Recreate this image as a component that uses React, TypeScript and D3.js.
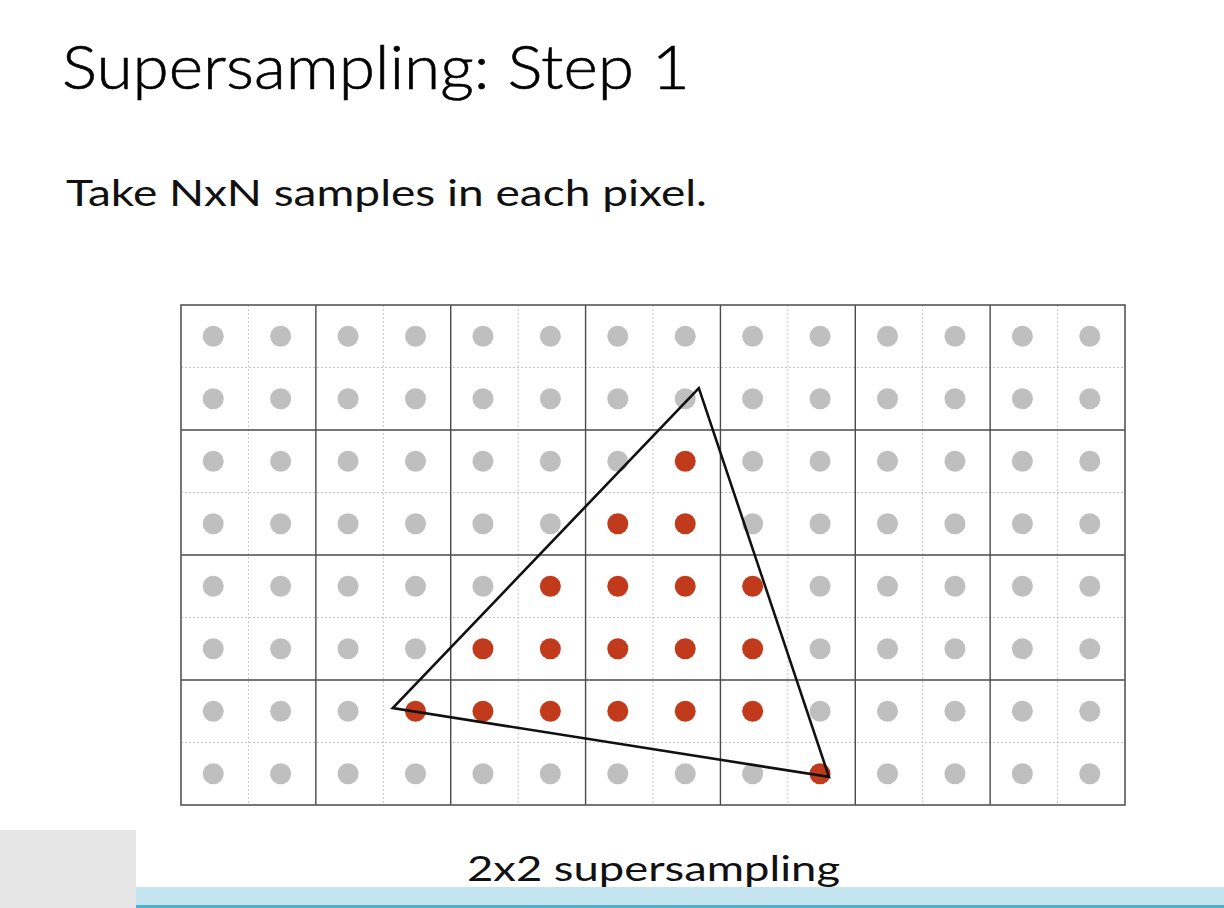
import React from 'react';
import * as d3 from 'd3';

// pixel grid, each pixel split into N x N samples
const pixelCols = 7;
const pixelRows = 4;
const samplesPerSide = 2;

// covered samples as [sampleRow, sampleCol]
const coveredSamples: [number, number][] = [
  [2, 7],
  [3, 6], [3, 7],
  [4, 5], [4, 6], [4, 7], [4, 8],
  [5, 4], [5, 5], [5, 6], [5, 7], [5, 8],
  [6, 3], [6, 4], [6, 5], [6, 6], [6, 7], [6, 8],
  [7, 9],
];

// triangle vertices in sample units [x, y]
const triangle: [number, number][] = [
  [7.68, 1.33],
  [3.14, 6.45],
  [9.61, 7.55],
];

const title = 'Supersampling: Step 1';
const subtitle = 'Take NxN samples in each pixel.';
const caption = '2x2 supersampling';

const W = 1224;
const H = 908;
const FONT = 'Lato, "Noto Sans", sans-serif';

const App: React.FC = () => {
  const nx = pixelCols * samplesPerSide;
  const ny = pixelRows * samplesPerSide;
  const x = d3.scaleLinear().domain([0, nx]).range([181, 1125]);
  const y = d3.scaleLinear().domain([0, ny]).range([305, 805]);

  const covered = new Set(coveredSamples.map(([r, c]) => `${r}-${c}`));
  const samples = d3.cross(d3.range(ny), d3.range(nx));

  const subLinesX = d3.range(1, nx).filter((i) => i % samplesPerSide !== 0);
  const subLinesY = d3.range(1, ny).filter((i) => i % samplesPerSide !== 0);
  const pixLinesX = d3.range(1, pixelCols).map((i) => i * samplesPerSide);
  const pixLinesY = d3.range(1, pixelRows).map((i) => i * samplesPerSide);

  const triPath = d3.line<[number, number]>()
    .x((d) => x(d[0]))
    .y((d) => y(d[1]))
    .curve(d3.curveLinearClosed)(triangle) as string;

  return (
    <svg
      width={W}
      height={H}
      viewBox={`0 0 ${W} ${H}`}
      style={{ position: 'absolute', left: 0, top: 0, background: '#fff' }}
    >
      <rect x={0} y={0} width={W} height={H} fill="#fff" />

      <text x={62} y={89} fontFamily={FONT} fontWeight={300} fontSize={62} fill="#000"
        stroke="#000" strokeWidth={0.6}
        textLength={628} lengthAdjust="spacingAndGlyphs">{title}</text>
      <text x={66} y={206} fontFamily={FONT} fontWeight={400} fontSize={37} fill="#111"
        textLength={641} lengthAdjust="spacingAndGlyphs">{subtitle}</text>

      {/* sample sub-grid */}
      <g stroke="#c4c4c4" strokeWidth={1} strokeDasharray="2,2">
        {subLinesX.map((i) => (
          <line key={`sx${i}`} x1={x(i)} x2={x(i)} y1={y(0)} y2={y(ny)} />
        ))}
        {subLinesY.map((i) => (
          <line key={`sy${i}`} x1={x(0)} x2={x(nx)} y1={y(i)} y2={y(i)} />
        ))}
      </g>

      {/* pixel grid */}
      <g stroke="#4a4a4a" strokeWidth={1.4}>
        {pixLinesX.map((i) => (
          <line key={`px${i}`} x1={x(i)} x2={x(i)} y1={y(0)} y2={y(ny)} />
        ))}
        {pixLinesY.map((i) => (
          <line key={`py${i}`} x1={x(0)} x2={x(nx)} y1={y(i)} y2={y(i)} />
        ))}
      </g>
      <rect x={x(0)} y={y(0)} width={x(nx) - x(0)} height={y(ny) - y(0)}
        fill="none" stroke="#555" strokeWidth={1.6} />

      {/* samples */}
      {samples.map(([r, c]) => (
        <circle
          key={`s${r}-${c}`}
          cx={x(c + 0.5) - 1.5}
          cy={y(r + 0.5)}
          r={10.5}
          fill={covered.has(`${r}-${c}`) ? '#c23a1c' : '#bfbfbf'}
        />
      ))}

      <path d={triPath} fill="none" stroke="#111" strokeWidth={2.6} strokeLinejoin="miter" />

      {/* bottom band */}
      <rect x={0} y={887} width={W} height={19} fill="#c4e5f0" />
      <rect x={0} y={905} width={W} height={3} fill="#4cb0d0" />
      <rect x={0} y={830} width={136} height={78} fill="#e6e6e6" />

      <text x={467} y={881} fontFamily={FONT} fontWeight={400} fontSize={34} fill="#111"
        textLength={373} lengthAdjust="spacingAndGlyphs">{caption}</text>
    </svg>
  );
};

export default App;
